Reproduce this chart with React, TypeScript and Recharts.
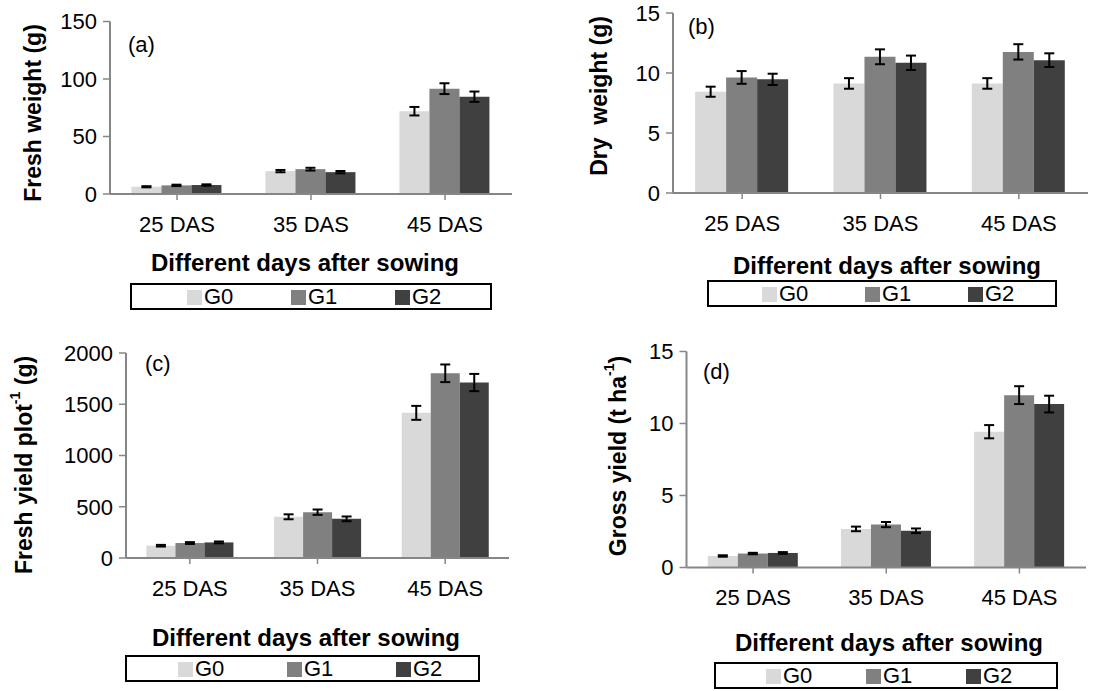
import { Bar, BarChart, ErrorBar, Legend, XAxis, YAxis } from "recharts";

const days = ["25 DAS", "35 DAS", "45 DAS"];
const groupNames = ["G0", "G1", "G2"];
const groupColors = ["#d9d9d9", "#808080", "#404040"];

// (a) fresh weight (g)
const freshG0 = [6.3, 19.9, 72];
const freshG1 = [7.5, 21.6, 91.6];
const freshG2 = [7.8, 19.0, 84.6];
const freshErrG0 = [0.5, 1.0, 3.7];
const freshErrG1 = [0.6, 1.2, 4.7];
const freshErrG2 = [0.6, 1.0, 4.5];
const freshTicks = [0, 50, 100, 150];

// (b) dry weight (g)
const dryG0 = [8.44, 9.13, 9.13];
const dryG1 = [9.63, 11.35, 11.76];
const dryG2 = [9.47, 10.85, 11.07];
const dryErrG0 = [0.42, 0.44, 0.44];
const dryErrG1 = [0.53, 0.62, 0.64];
const dryErrG2 = [0.47, 0.6, 0.57];
const dryTicks = [0, 5, 10, 15];

// (c) fresh yield per plot (g)
const plotG0 = [120, 402, 1416];
const plotG1 = [146, 447, 1802];
const plotG2 = [152, 382, 1712];
const plotErrG0 = [8, 24, 68];
const plotErrG1 = [9, 26, 86];
const plotErrG2 = [9, 23, 84];
const plotTicks = [0, 500, 1000, 1500, 2000];

// (d) gross yield (t/ha)
const grossG0 = [0.8, 2.68, 9.43];
const grossG1 = [0.97, 2.98, 11.97];
const grossG2 = [1.01, 2.55, 11.35];
const grossErrG0 = [0.05, 0.16, 0.46];
const grossErrG1 = [0.05, 0.18, 0.62];
const grossErrG2 = [0.06, 0.16, 0.58];
const grossTicks = [0, 5, 10, 15];

const FONT = "'Liberation Sans', Arial, sans-serif";
const AXIS = "#868686";

function rows(v: number[][], e: number[][]) {
  return days.map((day, i) => ({
    day,
    G0: v[0][i],
    G1: v[1][i],
    G2: v[2][i],
    G0err: e[0][i],
    G1err: e[1][i],
    G2err: e[2][i],
  }));
}

function LegendBox({ payload, pad, step }: any) {
  return (
    <div
      style={{
        border: "2px solid #000",
        boxSizing: "border-box",
        height: 27,
        position: "relative",
        background: "#fff",
        fontFamily: FONT,
        fontSize: 22,
      }}
    >
      {(payload || []).map((p: any, i: number) => (
        <div
          key={p.value}
          style={{
            position: "absolute",
            left: pad + i * step,
            top: 1,
            display: "flex",
            alignItems: "center",
            lineHeight: "22px",
          }}
        >
          <span
            style={{
              display: "inline-block",
              width: 15,
              height: 15,
              background: p.color,
              marginRight: 2,
            }}
          />
          {p.value}
        </div>
      ))}
    </div>
  );
}

type PanelProps = {
  left: number;
  top: number;
  width: number;
  height: number;
  plotLeft: number;
  plotTop: number;
  plotRight: number;
  plotBottom: number;
  data: any[];
  ticks: number[];
  tag: string;
  tagPos: [number, number];
  yTitle: React.ReactNode;
  yTitlePos: [number, number];
  xTitlePos: [number, number];
  legend: { left: number; top: number; width: number; pad: number; step: number };
};

function Panel(p: PanelProps) {
  const yLabel = () => (
    <g>
      <text
        x={p.tagPos[0]}
        y={p.tagPos[1]}
        dominantBaseline="central"
        fontSize={22}
        fontFamily={FONT}
        fill="#000"
      >
        {p.tag}
      </text>
      <text
        x={p.yTitlePos[0]}
        y={p.yTitlePos[1]}
        transform={`rotate(-90, ${p.yTitlePos[0]}, ${p.yTitlePos[1]})`}
        textAnchor="middle"
        dominantBaseline="central"
        fontSize={23}
        fontWeight="bold"
        fontFamily={FONT}
        fill="#000"
      >
        {p.yTitle}
      </text>
    </g>
  );
  const xLabel = () => (
    <text
      x={p.xTitlePos[0]}
      y={p.xTitlePos[1]}
      textAnchor="middle"
      dominantBaseline="central"
      fontSize={24}
      fontWeight="bold"
      fontFamily={FONT}
      fill="#000"
    >
      Different days after sowing
    </text>
  );
  const tick = { fill: "#000", fontSize: 22, fontFamily: FONT };
  return (
    <div style={{ position: "absolute", left: p.left, top: p.top }}>
      <BarChart
        width={p.width}
        height={p.height}
        data={p.data}
        margin={{ top: p.plotTop, right: p.width - p.plotRight, left: 0, bottom: 0 }}
        barCategoryGap="16%"
        barGap={0}
      >
        <XAxis
          dataKey="day"
          height={p.height - p.plotBottom}
          tick={tick}
          tickSize={6}
          tickMargin={16}
          axisLine={{ stroke: AXIS, strokeWidth: 2 }}
          tickLine={{ stroke: AXIS, strokeWidth: 1.5 }}
          label={xLabel}
        />
        <YAxis
          width={p.plotLeft}
          domain={[p.ticks[0], p.ticks[p.ticks.length - 1]]}
          ticks={p.ticks}
          interval={0}
          tick={tick}
          tickSize={7}
          tickMargin={6}
          axisLine={{ stroke: AXIS, strokeWidth: 2 }}
          tickLine={{ stroke: AXIS, strokeWidth: 1.5 }}
          label={yLabel}
        />
        <Legend
          layout="vertical"
          align="center"
          verticalAlign="middle"
          wrapperStyle={{
            left: p.legend.left,
            top: p.legend.top,
            width: p.legend.width,
            height: 27,
          }}
          content={(props: any) => (
            <LegendBox payload={props.payload} pad={p.legend.pad} step={p.legend.step} />
          )}
        />
        {groupNames.map((g, i) => (
          <Bar
            key={g}
            dataKey={g}
            name={g}
            fill={groupColors[i]}
            isAnimationActive={false}
          >
            <ErrorBar dataKey={`${g}err`} width={5} stroke="#000" strokeWidth={2} direction="y" />
          </Bar>
        ))}
      </BarChart>
    </div>
  );
}

export default function App() {
  return (
    <div
      style={{
        position: "absolute",
        left: 0,
        top: 0,
        width: 1103,
        height: 691,
        background: "#fff",
        overflow: "hidden",
        fontFamily: FONT,
      }}
    >
      <Panel
        left={0}
        top={0}
        width={551}
        height={330}
        plotLeft={110}
        plotTop={21.5}
        plotRight={512}
        plotBottom={194}
        data={rows([freshG0, freshG1, freshG2], [freshErrG0, freshErrG1, freshErrG2])}
        ticks={freshTicks}
        tag="(a)"
        tagPos={[128, 44]}
        yTitle="Fresh weight (g)"
        yTitlePos={[33, 113]}
        xTitlePos={[305, 262]}
        legend={{ left: 130, top: 283, width: 362, pad: 55, step: 104 }}
      />
      <Panel
        left={551}
        top={0}
        width={552}
        height={330}
        plotLeft={122}
        plotTop={13}
        plotRight={537}
        plotBottom={193}
        data={rows([dryG0, dryG1, dryG2], [dryErrG0, dryErrG1, dryErrG2])}
        ticks={dryTicks}
        tag="(b)"
        tagPos={[137, 26]}
        yTitle={"Dry\u00a0\u00a0weight (g)"}
        yTitlePos={[48, 96]}
        xTitlePos={[336, 265]}
        legend={{ left: 156, top: 280, width: 350, pad: 53, step: 103 }}
      />
      <Panel
        left={0}
        top={330}
        width={551}
        height={361}
        plotLeft={126}
        plotTop={23}
        plotRight={509}
        plotBottom={228}
        data={rows([plotG0, plotG1, plotG2], [plotErrG0, plotErrG1, plotErrG2])}
        ticks={plotTicks}
        tag="(c)"
        tagPos={[145, 33]}
        yTitle={
          <>
            Fresh yield plot
            <tspan fontSize={14} dy={-9}>-1</tspan>
            <tspan dy={9}> (g)</tspan>
          </>
        }
        yTitlePos={[24, 135]}
        xTitlePos={[306, 307]}
        legend={{ left: 125, top: 325, width: 355, pad: 51, step: 109 }}
      />
      <Panel
        left={551}
        top={330}
        width={552}
        height={361}
        plotLeft={135.5}
        plotTop={21.5}
        plotRight={535}
        plotBottom={237.5}
        data={rows([grossG0, grossG1, grossG2], [grossErrG0, grossErrG1, grossErrG2])}
        ticks={grossTicks}
        tag="(d)"
        tagPos={[152, 41]}
        yTitle={
          <>
            Gross yield (t ha
            <tspan fontSize={14} dy={-9}>-1</tspan>
            <tspan dy={9}>)</tspan>
          </>
        }
        yTitlePos={[67, 126]}
        xTitlePos={[338, 312]}
        legend={{ left: 163, top: 332, width: 344, pad: 50, step: 100 }}
      />
    </div>
  );
}
